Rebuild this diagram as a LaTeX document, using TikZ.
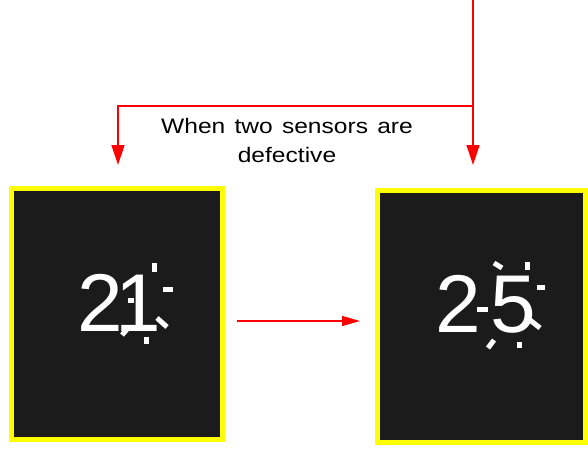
\documentclass[tikz,border=0pt]{standalone}
\usepackage{fontspec}
\setmainfont{Liberation Sans}
\newfontfamily\lblfont[FakeStretch=1.17,WordSpace=1.35]{Liberation Sans}
\usetikzlibrary{arrows.meta}
\definecolor{panelbg}{HTML}{1B1B1B}
\definecolor{panelrim}{HTML}{FFFF00}
\definecolor{arrowred}{HTML}{FF0000}
\begin{document}
\begin{tikzpicture}[x=1pt,y=-1pt,
  panel/.style={draw=panelrim, line width=5pt, fill=panelbg, inner sep=0pt},
  digits/.style={text=white, font=\fontsize{82}{82}\selectfont, inner sep=0pt, anchor=base west},
  ray/.style={draw=white, line width=5pt},
  conn/.style={draw=arrowred, line width=1.3pt, -{Triangle[length=20pt,width=13pt]}},
  connsmall/.style={draw=arrowred, line width=1.3pt, -{Triangle[length=18pt,width=10pt]}},
  caption/.style={font=\lblfont\fontsize{21}{29}\selectfont, align=center, inner sep=0pt}]
\useasboundingbox (0,0) rectangle (588,450);
\node[panel, minimum width=211pt, minimum height=251pt] (L) at (117,314) {};
\node[panel, minimum width=208pt, minimum height=252pt] (R) at (481.5,316.5) {};
\node[digits] (n21) at (77,331) {2\kern-7pt 1};
\node[digits] (n25) at (435,332) {2\kern10pt 5};
% rays left
\draw[ray] (154,263) -- (154,272);
\draw[ray] (163,289) -- (173,289);
\draw[ray] (157,318) -- (167,327);
\draw[ray] (146,337) -- (146,344);
\draw[ray] (129,327) -- (122,335);
\draw[ray] (128,300) -- (134,300);
% rays right
\draw[ray] (494,263) -- (502,268);
\draw[ray] (527,262) -- (527,270);
\draw[ray] (537,287) -- (545,287);
\draw[ray] (530,320) -- (540,328);
\draw[ray] (519,342) -- (519,348);
\draw[ray] (494,340) -- (488,348);
\draw[ray] (477,309) -- (488,309);
% connectors
\coordinate (src) at (473,0);
\coordinate (J) at (473,106);
\coordinate (K) at (118,106);
\coordinate (tl) at (118,165);
\coordinate (tr) at (473,165);
\coordinate (ms) at (237,321);
\coordinate (me) at (360,321);
\draw[conn] (src) -- (tr);
\draw[conn] (J) -- (K) -- (tl);
\draw[connsmall] (ms) -- (me);
\node[caption] (cap) at (287,140) {When two sensors are\\defective};
\end{tikzpicture}
\end{document}
